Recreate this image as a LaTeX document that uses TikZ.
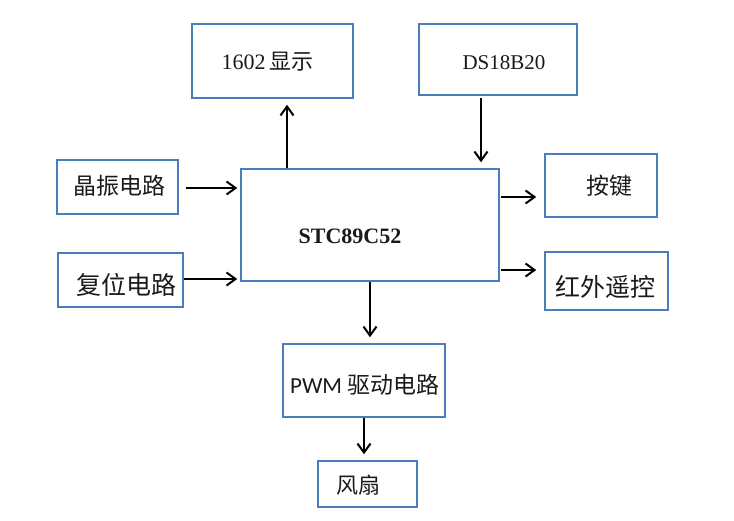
\documentclass[tikz,border=0pt]{standalone}
\usepackage{fontspec}
\setmainfont{Liberation Serif}
\newfontfamily\cjk{Noto Sans CJK SC}
\newfontfamily\cali{Carlito}
\usetikzlibrary{arrows.meta,calc}
\definecolor{boxblue}{HTML}{4A7EBB}
\definecolor{txt}{HTML}{1A1A1A}
\begin{document}
\begin{tikzpicture}[x=1pt,y=-1pt,
  box/.style={draw=boxblue,line width=1.5pt,inner sep=0pt,fill=white},
  lbl/.style={text=txt,inner sep=0pt},
  arr/.style={line width=2.1pt,-{Straight Barb[length=9pt,width=13pt,line width=2pt]}}]
\useasboundingbox[fill=white] (0,0) rectangle (734,520);
% boxes
\node[box,minimum width=161pt,minimum height=74pt,
  label={[lbl,xshift=-5pt,yshift=-1pt,font=\fontsize{22}{24}\selectfont]center:1602\,{\cjk 显示}}] (disp) at (272.5,61) {};
\node[box,minimum width=158pt,minimum height=71pt,
  label={[lbl,xshift=6pt,yshift=-3pt,font=\fontsize{21}{24}\selectfont]center:DS18B20}] (ds) at (498,59.5) {};
\node[box,minimum width=258pt,minimum height=112pt,
  label={[lbl,xshift=-20pt,yshift=-11pt,font=\fontsize{22}{24}\selectfont\bfseries]center:STC89C52}] (mcu) at (370,225) {};
\node[box,minimum width=121pt,minimum height=54pt,
  label={[lbl,xshift=2pt,yshift=1pt,font=\fontsize{23}{26}\selectfont\cjk]center:晶振电路}] (osc) at (117.5,187) {};
\node[box,minimum width=125pt,minimum height=54pt,
  label={[lbl,xshift=6pt,yshift=-5pt,font=\fontsize{25}{28}\selectfont\cjk]center:复位电路}] (rst) at (120.5,280) {};
\node[box,minimum width=112pt,minimum height=63pt,
  label={[lbl,xshift=8pt,yshift=0pt,font=\fontsize{23}{26}\selectfont\cjk]center:按键}] (key) at (601,185.5) {};
\node[box,minimum width=123pt,minimum height=58pt,
  label={[lbl,xshift=-1pt,yshift=-6pt,font=\fontsize{25}{28}\selectfont\cjk]center:红外遥控}] (ir) at (606.5,281) {};
\node[box,minimum width=162pt,minimum height=73pt,
  label={[lbl,xshift=1pt,yshift=-4pt,font=\fontsize{23}{26}\selectfont]center:{\cali PWM} {\cjk 驱动电路}}] (pwm) at (364,380.5) {};
\node[box,minimum width=99pt,minimum height=46pt,
  label={[lbl,xshift=-9pt,yshift=-1pt,font=\fontsize{22}{25}\selectfont\cjk]center:风扇}] (fan) at (367.5,484) {};
% connectors
\coordinate (cx1) at (287,0);
\coordinate (cx2) at (481,0);
\coordinate (cx3) at (370,0);
\coordinate (cx4) at (364,0);
\coordinate (cy1) at (0,188);
\coordinate (cy2) at (0,279);
\coordinate (cy3) at (0,197);
\coordinate (cy4) at (0,270);
\draw[arr,shorten >=6pt] (mcu.north -| cx1) -- (disp.south -| cx1);
\draw[arr,shorten <=2pt,shorten >=6pt] (ds.south -| cx2) -- (mcu.north -| cx2);
\draw[arr,shorten <=7pt,shorten >=3pt] (osc.east |- cy1) -- (mcu.west |- cy1);
\draw[arr,shorten >=3pt] (rst.east |- cy2) -- (mcu.west |- cy2);
\draw[arr,shorten <=1pt,shorten >=8pt] (mcu.east |- cy3) -- (key.west |- cy3);
\draw[arr,shorten <=1pt,shorten >=8pt] (mcu.east |- cy4) -- (ir.west |- cy4);
\draw[arr,shorten >=6pt] (mcu.south -| cx3) -- (pwm.north -| cx3);
\draw[arr,shorten >=6pt] (pwm.south -| cx4) -- (fan.north -| cx4);
\end{tikzpicture}
\end{document}
